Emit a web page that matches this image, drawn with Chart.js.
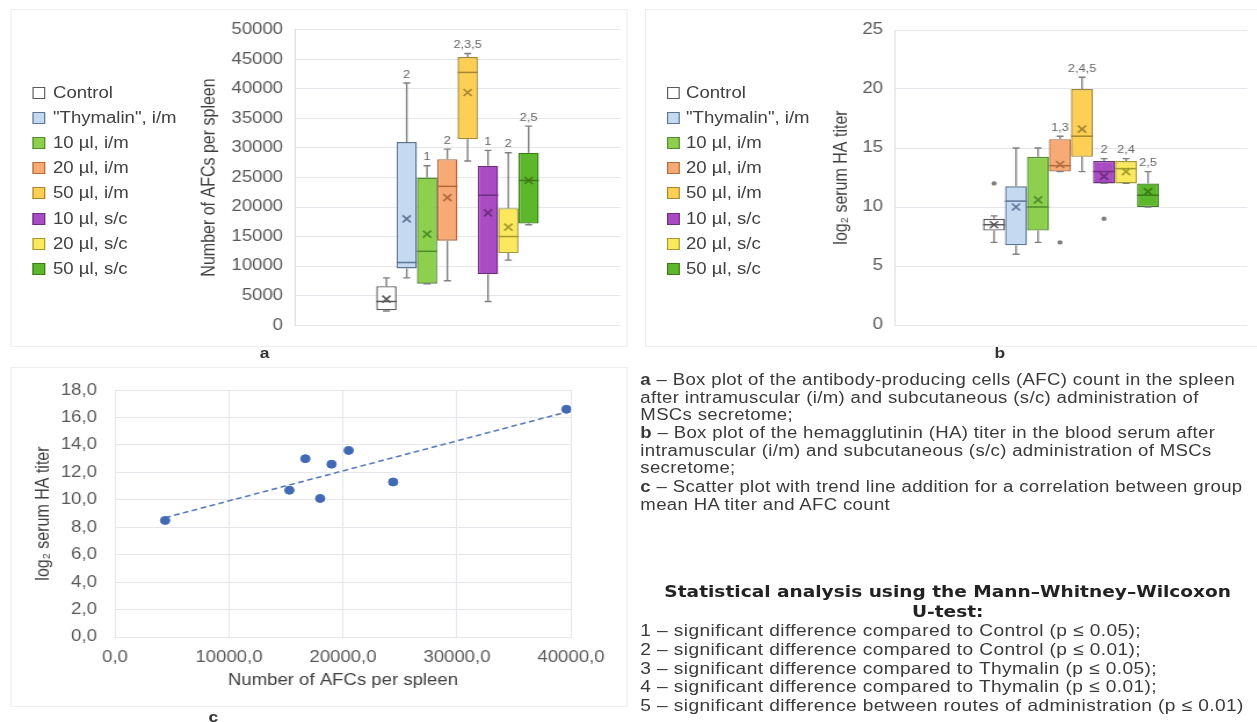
<!DOCTYPE html>
<html>
<head>
<meta charset="utf-8">
<script src="https://cdn.jsdelivr.net/npm/chart.js@4.4.1/dist/chart.umd.min.js"></script>
<style>
  html, body { margin: 0; padding: 0; background: #fff; overflow: hidden; }
  body { width: 1257px; height: 722px; position: relative; font-family: "Liberation Sans", Arial, sans-serif; color: #404040; }
  #wrap { position: absolute; left: 0; top: 0; width: 1084px; height: 722px; transform: scaleX(1.16); transform-origin: 0 0; }
  .abs { position: absolute; }
  .panel { position: absolute; border: 1px solid #eceef1; box-sizing: border-box; }
  .legend div { position: absolute; height: 25px; line-height: 25px; font-size: 16px; white-space: nowrap; color: #404040; }
  .legend i { display: inline-block; width: 9px; height: 10px; margin-right: 6px; vertical-align: -1px; border: 1px solid; }
  .lbl { position: absolute; font-weight: bold; font-size: 15px; color: #333; transform: translateX(-50%); }
  .txt { position: absolute; left: 552px; white-space: nowrap; font-size: 16px; letter-spacing: 0.3px; line-height: 17.5px; color: #3a3a3a; }
  .list { font-size: 16.5px; letter-spacing: 0.35px; line-height: 18.8px; }
  .ttl { position: absolute; left: 552px; width: 530px; text-align: center; font-family: "DejaVu Sans", sans-serif; font-weight: bold; font-size: 16px; line-height: 20px; color: #222; white-space: nowrap; }
</style>
</head>
<body>
<div id="wrap">
  <div class="panel" style="left:9px;top:9px;width:532px;height:338px"></div>
  <div class="panel" style="left:556px;top:9px;width:530px;height:338px"></div>
  <div class="panel" style="left:9px;top:367px;width:532px;height:340px"></div>

  <div class="legend" id="legA"></div>
  <div class="legend" id="legB"></div>

  <canvas id="chartA" class="abs" width="374" height="335" style="left:167px;top:10px"></canvas>
  <canvas id="chartB" class="abs" width="372" height="335" style="left:712px;top:10px"></canvas>
  <canvas id="chartC" class="abs" width="532" height="345" style="left:9px;top:365px"></canvas>

  <div class="lbl" style="left:228px;top:344px">a</div>
  <div class="lbl" style="left:862px;top:344px">b</div>
  <div class="lbl" style="left:184px;top:708px">c</div>

  <div class="txt" style="top:371px"><b>a</b> – Box plot of the antibody-producing cells (AFC) count in the spleen<br>after intramuscular (i/m) and subcutaneous (s/c) administration of<br>MSCs secretome;</div>
  <div class="txt" style="top:424px"><b>b</b> – Box plot of the hemagglutinin (HA) titer in the blood serum after<br>intramuscular (i/m) and subcutaneous (s/c) administration of MSCs<br>secretome;</div>
  <div class="txt" style="top:478px"><b>c</b> – Scatter plot with trend line addition for a correlation between group<br>mean HA titer and AFC count</div>
  <div class="ttl" style="top:582px">Statistical analysis using the Mann–Whitney–Wilcoxon<br>U-test:</div>
  <div class="txt list" style="top:621px">1 – significant difference compared to Control (p ≤ 0.05);<br>2 – significant difference compared to Control (p ≤ 0.01);<br>3 – significant difference compared to Thymalin (p ≤ 0.05);<br>4 – significant difference compared to Thymalin (p ≤ 0.01);<br>5 – significant difference between routes of administration (p ≤ 0.01)</div>
</div>

<script>
const groups = ['Control', '"Thymalin", i/m', '10 µl, i/m', '20 µl, i/m', '50 µl, i/m', '10 µl, s/c', '20 µl, s/c', '50 µl, s/c'];
const fills = ['#ffffff', '#c5d9f0', '#8ed04e', '#f8aa74', '#fdd055', '#a94bc2', '#fbe85c', '#5cb82a'];
const edges = ['#5a5a5a', '#5d7594', '#4e8c2c', '#b06a3e', '#a5852e', '#6d2d80', '#a39a30', '#3c7a19'];

// a - number of AFCs per spleen
const afcMin    = [2400, 8000, 7000, 7500, 27800, 4000, 11000, 17000];
const afcQ1     = [2500, 9600, 7000, 14300, 31500, 8600, 12200, 17200];
const afcMedian = [4000, 10600, 12500, 23500, 42800, 22000, 15000, 24500];
const afcQ3     = [6600, 31000, 25000, 28100, 45400, 27000, 19800, 29200];
const afcMax    = [8000, 41000, 27000, 29800, 46000, 29600, 29200, 33700];
const afcMean   = [4400, 18000, 15400, 21600, 39400, 19000, 16600, 24500];
const afcSig    = ['', '2', '1', '2', '2,3,5', '1', '2', '2,5'];
const afcTicks  = [0, 5000, 10000, 15000, 20000, 25000, 30000, 35000, 40000, 45000, 50000];

// b - log2 serum HA titer
const haMin      = [7, 6, 7, 13, 13, 12, 12, 10];
const haQ1       = [8, 6.75, 8, 13, 14.25, 12, 12, 10];
const haMedian   = [8.5, 10.5, 10, 13.5, 16, 13, 13.25, 11];
const haQ3       = [9, 11.75, 14.25, 15.75, 20, 13.9, 13.9, 12];
const haMax      = [9.25, 15, 15, 16, 21, 14.1, 14.1, 13];
const haMean     = [8.5, 10, 10.6, 13.6, 16.6, 12.6, 13, 11.3];
const haOutliers = [[12], [], [], [7], [], [9], [], []];
const haSig      = ['', '', '', '1,3', '2,4,5', '2', '2,4', '2,5'];
const haTicks    = [0, 5, 10, 15, 20, 25];

// c - group means, HA titer vs AFC count
const scatterX = [4400, 15300, 16700, 18000, 19000, 20500, 24400, 39600];
const scatterY = [8.5, 10.7, 13.0, 10.1, 12.6, 13.6, 11.3, 16.6];
const trendX = [4400, 39600];
const trendY = [8.7, 16.4];
const cTicksX = [0, 10000, 20000, 30000, 40000];
const cTicksY = [0, 2, 4, 6, 8, 10, 12, 14, 16, 18];

const FONT = '"Liberation Sans", Arial, sans-serif';
const GRID = '#e4e7eb';
const TICK = '#595959';

function buildLegend(id, left, boxLeft) {
  const el = document.getElementById(id);
  groups.forEach((g, i) => {
    const d = document.createElement('div');
    d.style.left = boxLeft + 'px';
    d.style.top = (79.5 + 25.2 * i) + 'px';
    const sw = document.createElement('i');
    sw.style.background = fills[i];
    sw.style.borderColor = edges[i];
    sw.style.marginRight = (left - boxLeft - 11) + 'px';
    d.appendChild(sw);
    d.appendChild(document.createTextNode(g));
    el.appendChild(d);
  });
}
buildLegend('legA', 45.7, 28.4);
buildLegend('legB', 591.4, 575);

function boxPlugin(s) {
  return {
    id: 'boxes',
    afterDatasetsDraw(chart) {
      const ctx = chart.ctx, y = chart.scales.y;
      groups.forEach((g, i) => {
        const bar = chart.getDatasetMeta(i).data[0];
        const x = bar.x, w = bar.width, cap = 3;
        const py = v => y.getPixelForValue(v);
        ctx.save();
        // whiskers
        ctx.strokeStyle = '#7f7f7f';
        ctx.lineWidth = 1.4;
        ctx.beginPath();
        ctx.moveTo(x, py(s.q3[i])); ctx.lineTo(x, py(s.max[i]));
        ctx.moveTo(x - cap, py(s.max[i])); ctx.lineTo(x + cap, py(s.max[i]));
        ctx.moveTo(x, py(s.q1[i])); ctx.lineTo(x, py(s.min[i]));
        ctx.moveTo(x - cap, py(s.min[i])); ctx.lineTo(x + cap, py(s.min[i]));
        ctx.stroke();
        // median
        ctx.strokeStyle = edges[i];
        ctx.lineWidth = 1.5;
        ctx.beginPath();
        ctx.moveTo(x - w / 2, py(s.median[i])); ctx.lineTo(x + w / 2, py(s.median[i]));
        ctx.stroke();
        // mean cross
        const ym = py(s.mean[i]);
        ctx.lineWidth = 1.6;
        ctx.beginPath();
        ctx.moveTo(x - 3.5, ym - 3.5); ctx.lineTo(x + 3.5, ym + 3.5);
        ctx.moveTo(x + 3.5, ym - 3.5); ctx.lineTo(x - 3.5, ym + 3.5);
        ctx.stroke();
        // outliers
        (s.outliers ? s.outliers[i] : []).forEach(v => {
          ctx.fillStyle = '#7f7f7f';
          ctx.beginPath();
          ctx.arc(x, py(v), 2.2, 0, Math.PI * 2);
          ctx.fill();
        });
        // significance marks
        if (s.sig[i]) {
          ctx.fillStyle = '#666';
          ctx.font = '11px ' + FONT;
          ctx.textAlign = 'center';
          ctx.textBaseline = 'bottom';
          ctx.fillText(s.sig[i], x, py(s.max[i]) - 3);
        }
        ctx.restore();
      });
    }
  };
}

function boxChart(id, s, yTicks, title, yWidth, tickPad, pad) {
  return new Chart(document.getElementById(id), {
    type: 'bar',
    data: {
      labels: [''],
      datasets: groups.map((g, i) => ({
        label: g,
        data: [[s.q1[i], s.q3[i]]],
        backgroundColor: fills[i],
        borderColor: edges[i],
        borderWidth: 1.4,
        borderSkipped: false,
        categoryPercentage: 0.5,
        barPercentage: 1
      }))
    },
    options: {
      responsive: false,
      animation: false,
      layout: { padding: pad },
      plugins: { legend: { display: false }, tooltip: { enabled: false } },
      scales: {
        x: { display: false },
        y: {
          min: yTicks[0], max: yTicks[yTicks.length - 1],
          afterBuildTicks: sc => { sc.ticks = yTicks.map(v => ({ value: v })); },
          afterFit: sc => { sc.width = yWidth; },
          grid: { color: GRID, drawTicks: false },
          border: { color: '#d9dde2' },
          ticks: { color: TICK, padding: tickPad, font: { family: FONT, size: 16 }, callback: v => String(v) },
          title: { display: true, text: title, color: '#404040', font: { family: FONT, size: 16 } }
        }
      }
    },
    plugins: [boxPlugin(s)]
  });
}

boxChart('chartA',
  { min: afcMin, q1: afcQ1, median: afcMedian, q3: afcQ3, max: afcMax, mean: afcMean, sig: afcSig },
  afcTicks, 'Number of AFCs per spleen', 87.3, 10.3, { top: 18, bottom: 14, left: 0, right: 6.5 });

boxChart('chartB',
  { min: haMin, q1: haQ1, median: haMedian, q3: haQ3, max: haMax, mean: haMean, outliers: haOutliers, sig: haSig },
  haTicks, 'log₂ serum HA titer', 59.6, 10.4, { top: 19, bottom: 14, left: 0, right: 9 });

const comma = v => v.toFixed(1).replace('.', ',');

new Chart(document.getElementById('chartC'), {
  type: 'scatter',
  data: {
    datasets: [
      {
        data: scatterX.map((x, i) => ({ x, y: scatterY[i] })),
        backgroundColor: '#4169b4',
        borderColor: '#4169b4',
        pointRadius: 4
      },
      {
        data: trendX.map((x, i) => ({ x, y: trendY[i] })),
        showLine: true,
        pointRadius: 0,
        borderColor: '#5b7bb8',
        borderWidth: 1.6,
        borderDash: [5, 3]
      }
    ]
  },
  options: {
    responsive: false,
    animation: false,
    layout: { padding: { top: 24, bottom: 15.4, left: 14.5, right: 48.8 } },
    plugins: { legend: { display: false }, tooltip: { enabled: false } },
    scales: {
      x: {
        type: 'linear', min: 0, max: 40000,
        afterBuildTicks: sc => { sc.ticks = cTicksX.map(v => ({ value: v })); },
        afterFit: sc => { sc.height = 57.6; },
        grid: { color: GRID, drawTicks: false },
        border: { color: GRID },
        ticks: { color: TICK, padding: 11, maxRotation: 0, font: { family: FONT, size: 16 }, callback: v => comma(v) },
        title: { display: true, text: 'Number of AFCs per spleen', color: '#404040', font: { family: FONT, size: 16 } }
      },
      y: {
        min: 0, max: 18,
        afterBuildTicks: sc => { sc.ticks = cTicksY.map(v => ({ value: v })); },
        afterFit: sc => { sc.width = 75.6; },
        grid: { color: GRID, drawTicks: false },
        border: { color: GRID },
        ticks: { color: TICK, padding: 15.5, font: { family: FONT, size: 16 }, callback: v => comma(v) },
        title: { display: true, text: 'log₂ serum HA titer', color: '#404040', font: { family: FONT, size: 16 } }
      }
    }
  }
});
</script>
</body>
</html>
